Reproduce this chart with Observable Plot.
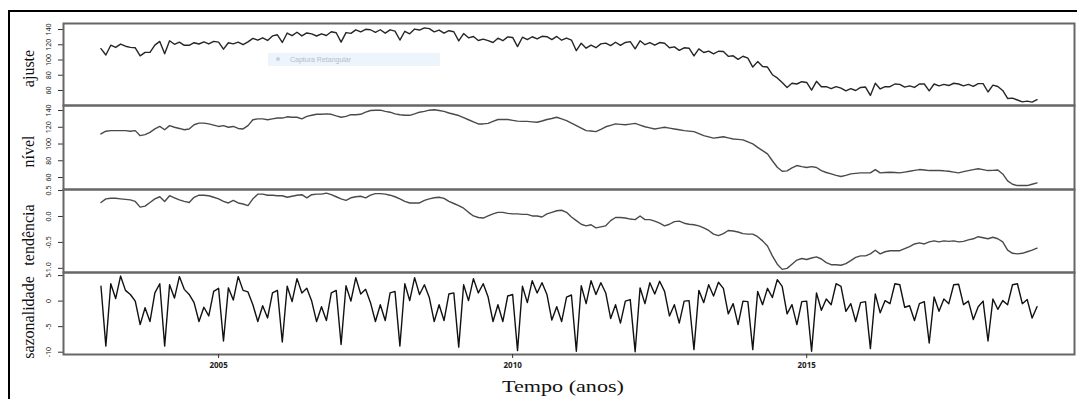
<!DOCTYPE html>
<html><head><meta charset="utf-8">
<script src="https://cdn.jsdelivr.net/npm/d3@7"></script>
<script src="https://cdn.jsdelivr.net/npm/@observablehq/plot@0.6"></script>
<style>
html,body{margin:0;padding:0;background:#fff;}
body{width:1077px;height:399px;overflow:hidden;position:relative;font-family:"Liberation Sans",Arial,sans-serif;}
#frame{position:absolute;left:8px;top:10px;width:1100px;height:420px;border:2px solid #000;box-sizing:border-box;}
.panel{position:absolute;left:0;}
#xlab{position:absolute;left:563px;top:377px;transform:translateX(-50%) scaleX(1.3);font-family:"Liberation Serif",serif;font-size:17px;color:#111;white-space:nowrap;}
#snip{position:absolute;left:268px;top:53px;width:172px;height:13px;background:#eef4fc;font-size:7px;color:#b4bccb;line-height:13px;}
#snip span.i{display:inline-block;width:4px;height:4px;background:#c7cfdc;border-radius:2px;margin:0 10px 1px 8px;}
</style></head>
<body>
<div id="frame"></div>
<div id="xlab">Tempo (anos)</div>
<script>
const startYear = 2003, freq = 12;
const panelLabels = ["ajuste", "nível", "tendência", "sazonalidade"];
const xTicks = [2005, 2010, 2015];
const ajusteTicks = [60, 80, 100, 120, 140];
const nivelTicks = [60, 80, 100, 120, 140];
const tendTicks = [-1.0, -0.5, 0.0, 0.5];
const sazTicks = [-10, -5, 0, 5];

const nivel = [112,115.3,116,116,116,116,115.3,116,110,111.3,114,118,
121,117,122,120,118.6,117,118,123,125,125,124,122.6,
121,122,120,121,118.6,118,122,129,130,130,129,130,
131,131,132.5,132,132,130,133,134.3,135.5,135.5,136,135.5,
133.6,132,133,135,135,135.5,138,140,140.4,140.4,139,138,
136,135,134.3,134.3,136,138,139,140.4,141,140,139,137,
135.5,134,131.5,129,126.5,124,124,124.6,127,129.3,129.3,129.3,
128.3,127.3,127,127,126.5,126,127.5,129.3,130.5,132,130,128,
125,122,119,116,115.5,114.8,117.5,120.6,122.3,124,123.5,123,
123.8,124.6,122.6,120.6,119.3,118,119,120,119,118,117,116,
115.4,114.8,112.5,110.1,108.5,107,107.8,108.7,107.3,106,105.5,104.9,
102.5,100.2,96,92.2,88.3,80,72.3,67.5,68,71.6,74.3,73,
72,73,72,68.3,66,64.3,62.5,61.2,62.5,64.3,65,65.5,
65.5,65.5,69.5,65.5,66,66.3,66,65.5,66.5,67.5,68.5,69.5,
69,68.3,68.3,68.3,68,67.5,66.5,65.5,67,68.3,69.5,70.4,
69.5,68.3,68.5,69,64.3,56,52,50.4,50.4,50.4,52,53.6];

const sazonalidade = [2.9,-8.8,3.4,0.5,4.9,2.1,1.3,0,-4.6,-1.3,-4.0,1.6,
3.4,-8.8,3.2,0.6,4.8,2.3,1.3,-0.3,-4.0,-1.2,-2.9,1.9,
2.5,-7.8,2.6,0.2,4.8,2.1,1.8,-0.7,-4.0,-0.9,-3.3,1.6,
2.1,-8.0,2.9,-0.1,4.4,1.6,2.5,0,-4.0,-1.1,-3.8,1.6,
2.1,-8.5,3.0,0,4.6,1.4,2.3,-0.3,-4.0,-0.7,-3.8,1.6,
1.9,-8.8,3.4,0.1,4.6,1.3,3.2,0.7,-4.0,-0.7,-3.8,1.4,
1.6,-9.0,3.2,0.1,4.4,1.6,3.4,0.8,-4.0,-0.7,-4.0,1.0,
1.3,-9.7,2.9,-0.3,4.0,1.6,3.6,1.3,-3.7,-1.1,-4.0,0.8,
1.2,-9.8,3.0,-0.5,4.0,1.3,3.6,1.6,-3.4,-0.7,-4.3,0,
0.3,-9.9,2.6,-0.5,3.6,1.4,3.9,1.9,-2.9,-0.7,-4.3,0,
0.1,-9.5,2.1,-0.3,3.2,1.0,3.7,2.5,-2.5,-0.5,-4.6,0,
-0.1,-9.5,1.9,-0.7,2.5,0.7,4.2,2.9,-2.5,-0.7,-4.6,-0.1,
0,-9.8,1.6,-1.8,0.4,-0.7,3.4,2.9,-2.0,-0.5,-4.0,-0.3,
-0.1,-9.3,1.4,-2.3,0.1,-0.5,3.4,3.2,-1.2,-0.9,-3.8,-0.5,
-0.1,-8.2,0.8,-2.0,0.4,-0.5,3.2,3.3,-0.7,0,-3.6,-1.1,
0,-7.8,0.4,-1.6,0.1,-0.7,3.2,3.4,-0.5,0.3,-3.3,-1.1];

const ajuste = [114.9,106.5,119.4,116.5,120.9,118.1,116.6,116,105.4,110.0,110.0,119.6,
124.4,108.2,125.2,120.6,123.4,119.3,119.3,122.7,121.0,123.8,121.1,124.5,
123.5,114.2,122.6,121.2,123.4,120.1,123.8,128.3,126.0,129.1,125.7,131.6,
133.1,123.0,135.4,131.9,136.4,131.6,135.5,134.3,131.5,134.4,132.2,137.1,
135.7,123.5,136.0,135.0,139.6,136.9,140.3,139.7,136.4,139.7,135.2,139.6,
137.9,126.2,137.7,134.4,140.6,139.3,142.2,141.1,137.0,139.3,135.2,138.4,
137.1,125.0,134.7,129.1,130.9,125.6,127.4,125.4,123.0,128.6,125.3,130.3,
129.6,117.6,129.9,126.7,130.5,127.6,131.1,130.6,126.8,130.9,126.0,128.8,
126.2,112.2,122.0,115.5,119.5,116.1,121.1,122.2,118.9,123.3,119.2,123.0,
124.1,114.7,125.2,120.1,122.9,119.4,122.9,121.9,116.1,117.3,112.7,116.0,
115.5,105.3,114.6,109.8,111.7,108.0,111.5,111.2,104.8,105.5,100.9,104.9,
102.4,90.7,97.9,91.5,90.8,80.7,76.5,70.4,64.0,69.5,68.5,71.5,
70.5,60.5,72.0,65.0,65.0,62.5,65.0,63.0,59.5,62.5,60.0,64.0,
64.5,53.5,69.5,62.0,65.0,65.0,68.5,68.0,64.5,66.0,64.0,68.5,
68.5,59.5,68.5,66.0,68.0,66.5,69.5,68.5,66.0,68.0,65.5,69.0,
69.0,58.0,67.0,65.2,60.0,49.5,50.0,47.5,45.0,46.0,44.7,48.0];

const tendencia = [0.27,0.34,0.35,0.35,0.34,0.33,0.32,0.29,0.18,0.2,0.27,0.34,
0.38,0.29,0.4,0.36,0.32,0.29,0.27,0.37,0.41,0.41,0.40,0.37,
0.34,0.29,0.26,0.31,0.26,0.24,0.21,0.34,0.43,0.43,0.41,0.41,
0.40,0.40,0.37,0.39,0.41,0.42,0.36,0.42,0.43,0.43,0.45,0.42,
0.38,0.34,0.31,0.36,0.38,0.39,0.36,0.41,0.44,0.44,0.43,0.41,
0.38,0.34,0.29,0.26,0.26,0.26,0.31,0.34,0.36,0.37,0.35,0.29,
0.25,0.21,0.16,0.08,0.01,-0.02,-0.03,0.01,0.05,0.08,0.08,0.06,
0.05,0.05,0.04,0.04,0.01,0.01,-0.01,0.05,0.08,0.11,0.12,0.08,
-0.01,-0.08,-0.15,-0.18,-0.16,-0.22,-0.2,-0.18,-0.08,-0.02,-0.02,-0.03,
-0.05,-0.06,0.01,-0.06,-0.06,-0.09,-0.13,-0.18,-0.15,-0.1,-0.09,-0.13,
-0.15,-0.16,-0.18,-0.22,-0.27,-0.34,-0.37,-0.33,-0.27,-0.28,-0.3,-0.33,
-0.34,-0.34,-0.39,-0.47,-0.57,-0.76,-0.92,-1.02,-1.0,-0.92,-0.84,-0.81,
-0.83,-0.8,-0.78,-0.82,-0.89,-0.93,-0.93,-0.94,-0.91,-0.85,-0.79,-0.76,
-0.76,-0.72,-0.65,-0.72,-0.68,-0.66,-0.66,-0.66,-0.62,-0.58,-0.53,-0.51,
-0.53,-0.49,-0.47,-0.49,-0.47,-0.48,-0.47,-0.49,-0.48,-0.45,-0.43,-0.39,
-0.41,-0.43,-0.40,-0.43,-0.49,-0.65,-0.71,-0.72,-0.71,-0.68,-0.65,-0.61];

const W = 1077, ML = 63, MR = 3, PAD = 2;
const xDomain = [2002.363, 2019.554];
const toRows = vals => vals.map((v, i) => ({t: startYear + i / freq, v}));

function panel({top, h, values, domain, ticks, fmt, label, stroke, lastPanel}) {
  const mb = lastPanel ? 40 : PAD;
  const marks = [
    Plot.axisY({ticks, tickSize: 5, tickFormat: () => "", stroke: "#333", label: null}),
    Plot.text(ticks, {y: d => d, text: fmt, frameAnchor: "left", dx: -14.5, rotate: -90,
      textAnchor: "middle", lineAnchor: "middle", fontSize: 7, fill: "#222"}),
    Plot.text([label], {frameAnchor: "left", dx: -35, rotate: -90, textAnchor: "middle",
      lineAnchor: "middle", fontSize: 16, fontFamily: "Liberation Serif, serif", fill: "#111", dy: 4}),
    Plot.lineY(toRows(values), {x: "t", y: "v", stroke, strokeWidth: 1.4, curve: "linear"}),
    Plot.frame({stroke: "#666", strokeWidth: 2})
  ];
  if (lastPanel) {
    marks.push(Plot.axisX({ticks: xTicks, tickSize: 4, tickPadding: 4, tickFormat: d => String(d),
      fontSize: 8, fontWeight: "bold", stroke: "#333", fill: "#222", label: null}));
  }
  const svg = Plot.plot({
    width: W, height: h + PAD + mb,
    marginLeft: ML, marginRight: MR, marginTop: PAD, marginBottom: mb,
    x: {domain: xDomain, axis: null},
    y: {domain, axis: null},
    style: {background: "transparent", overflow: "visible"},
    marks
  });
  svg.classList.add("panel");
  svg.style.top = (top - PAD) + "px";
  document.body.appendChild(svg);
}

panel({top: 23, h: 82, values: ajuste, domain: [40.3, 147.9], ticks: ajusteTicks, fmt: d => String(d), label: panelLabels[0], stroke: "#262626"});
panel({top: 105, h: 84, values: nivel, domain: [45.7, 146], ticks: nivelTicks, fmt: d => String(d), label: panelLabels[1], stroke: "#4a4a4a"});
panel({top: 189, h: 83, values: tendencia, domain: [-1.08, 0.52], ticks: tendTicks, fmt: d => d.toFixed(1), label: panelLabels[2], stroke: "#4a4a4a"});
panel({top: 272, h: 82, values: sazonalidade, domain: [-10.45, 5.6], ticks: sazTicks, fmt: d => String(d), label: panelLabels[3], stroke: "#111", lastPanel: true});

const snip = document.createElement("div");
snip.id = "snip";
snip.innerHTML = '<span class="i"></span>Captura Retangular';
document.body.appendChild(snip);
</script>
</body></html>
